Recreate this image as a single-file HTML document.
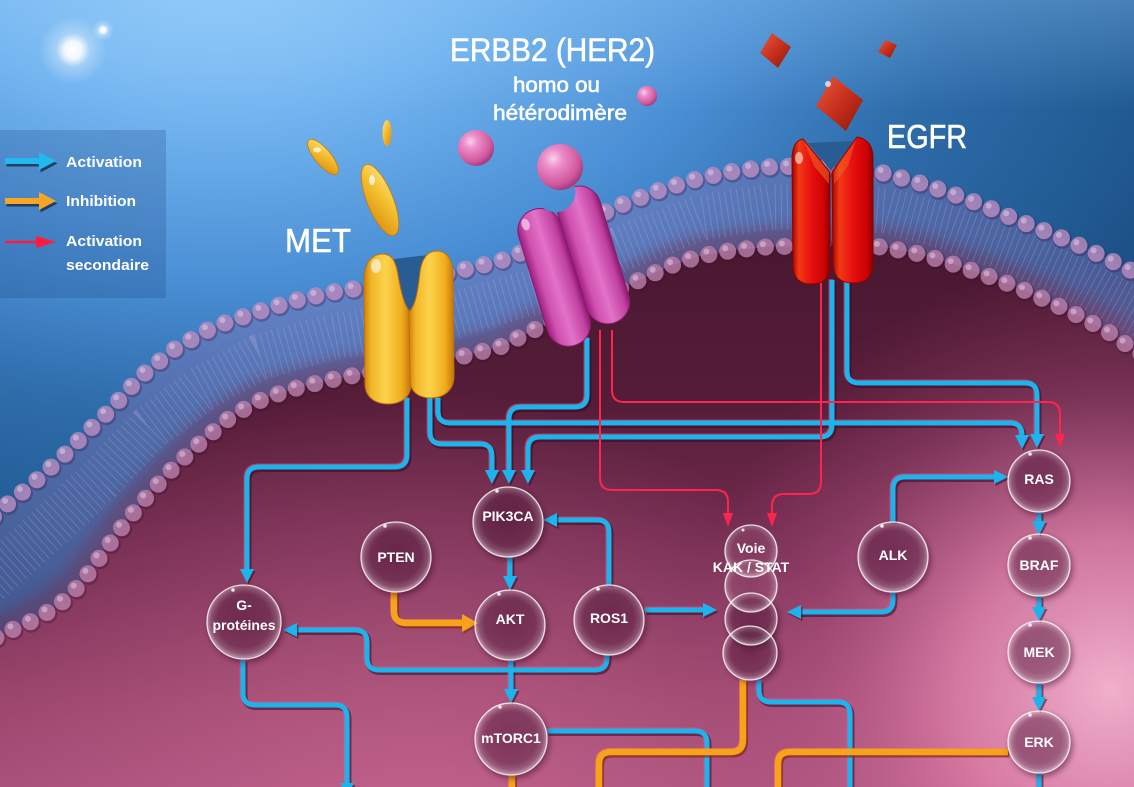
<!DOCTYPE html>
<html><head><meta charset="utf-8"><style>
html,body{margin:0;padding:0;background:#2a66a6;}
svg{display:block;}
text{font-family:"Liberation Sans",Arial,sans-serif;fill:#fff;}
</style></head><body>
<svg width="1134" height="787" viewBox="0 0 1134 787" xmlns="http://www.w3.org/2000/svg">
<defs>
  <radialGradient id="bg" gradientUnits="userSpaceOnUse" cx="220" cy="-40" r="1040" gradientTransform="translate(220,-40) scale(1,0.62) translate(-220,40)">
    <stop offset="0" stop-color="#9ad0fb"/><stop offset="0.25" stop-color="#72b4f0"/><stop offset="0.5" stop-color="#4a8ed4"/><stop offset="0.7" stop-color="#2e6caa"/><stop offset="0.9" stop-color="#215b93"/><stop offset="1" stop-color="#1b4f85"/>
  </radialGradient>
  <linearGradient id="topLight" gradientUnits="userSpaceOnUse" x1="0" y1="0" x2="0" y2="110">
    <stop offset="0" stop-color="#8cc6f6" stop-opacity="0.35"/><stop offset="1" stop-color="#8cc6f6" stop-opacity="0"/>
  </linearGradient>
  <linearGradient id="cell" gradientUnits="userSpaceOnUse" x1="0" y1="240" x2="0" y2="787">
    <stop offset="0" stop-color="#4a1830"/><stop offset="0.3" stop-color="#551c38"/><stop offset="0.6" stop-color="#7a3055"/><stop offset="0.85" stop-color="#9a456c"/><stop offset="1" stop-color="#a64e78"/>
  </linearGradient>
  <radialGradient id="glow1" gradientUnits="userSpaceOnUse" cx="1110" cy="690" r="430">
    <stop offset="0" stop-color="#f0b0cc" stop-opacity="1"/><stop offset="0.35" stop-color="#e487b0" stop-opacity="0.8"/><stop offset="0.7" stop-color="#c86496" stop-opacity="0.3"/><stop offset="1" stop-color="#b45082" stop-opacity="0"/>
  </radialGradient>
  <radialGradient id="glow2" gradientUnits="userSpaceOnUse" cx="420" cy="860" r="480">
    <stop offset="0" stop-color="#d2709a" stop-opacity="0.6"/><stop offset="1" stop-color="#d2709a" stop-opacity="0"/>
  </radialGradient>
  <radialGradient id="spark" cx="50%" cy="50%" r="50%">
    <stop offset="0" stop-color="#fff" stop-opacity="1"/><stop offset="0.25" stop-color="#fff" stop-opacity="0.9"/><stop offset="0.5" stop-color="#fff" stop-opacity="0.3"/><stop offset="1" stop-color="#fff" stop-opacity="0"/>
  </radialGradient>
  <linearGradient id="yel" x1="0" y1="0" x2="1" y2="0">
    <stop offset="0" stop-color="#d0800a"/><stop offset="0.15" stop-color="#f2b526"/><stop offset="0.45" stop-color="#fcd34c"/><stop offset="0.8" stop-color="#f0ae1e"/><stop offset="1" stop-color="#c47408"/>
  </linearGradient>
  <linearGradient id="yel2" x1="0" y1="0" x2="1" y2="1">
    <stop offset="0" stop-color="#fde48a"/><stop offset="0.4" stop-color="#f6c232"/><stop offset="1" stop-color="#d88a0c"/>
  </linearGradient>
  <linearGradient id="pnk" x1="0" y1="0" x2="1" y2="0">
    <stop offset="0" stop-color="#9c1e7e"/><stop offset="0.2" stop-color="#d050b0"/><stop offset="0.5" stop-color="#e272c8"/><stop offset="0.85" stop-color="#c040a0"/><stop offset="1" stop-color="#8c186e"/>
  </linearGradient>
  <radialGradient id="ball" cx="35%" cy="32%" r="70%">
    <stop offset="0" stop-color="#fbd0ea"/><stop offset="0.3" stop-color="#ec8cc8"/><stop offset="0.8" stop-color="#d0589e"/><stop offset="1" stop-color="#a83c80"/>
  </radialGradient>
  <linearGradient id="red" x1="0" y1="0" x2="1" y2="0">
    <stop offset="0" stop-color="#a00000"/><stop offset="0.18" stop-color="#f03a14"/><stop offset="0.5" stop-color="#e81010"/><stop offset="0.85" stop-color="#cc0202"/><stop offset="1" stop-color="#8a0000"/>
  </linearGradient>
  <linearGradient id="dia" x1="0" y1="0" x2="1" y2="1">
    <stop offset="0" stop-color="#e85a40"/><stop offset="0.5" stop-color="#c8301c"/><stop offset="1" stop-color="#8e160a"/>
  </linearGradient>
  <radialGradient id="node" cx="50%" cy="48%" r="50%">
    <stop offset="0" stop-color="#fff" stop-opacity="0.02"/><stop offset="0.72" stop-color="#fff" stop-opacity="0.06"/><stop offset="0.9" stop-color="#fff" stop-opacity="0.2"/><stop offset="1" stop-color="#fff" stop-opacity="0.45"/>
  </radialGradient>
  <filter id="blur3" x="-30%" y="-30%" width="160%" height="160%"><feGaussianBlur stdDeviation="3"/></filter>
  <filter id="blur6" x="-30%" y="-30%" width="160%" height="160%"><feGaussianBlur stdDeviation="6"/></filter>
  <mask id="cup" maskUnits="userSpaceOnUse" x="-120" y="-160" width="240" height="320">
    <rect x="-120" y="-160" width="240" height="320" fill="#fff"/>
    <circle cx="4" cy="-80" r="20" fill="#000"/>
  </mask>

  <path id="outer" d="M-20,530 L0,510 L30,486 L60,459 L85,434 L110,410 L140,377 L173,350 L213,327 L257,312 L293,301 L333,292 L400,282 L453,272 L500,261 L533,248 L575,228 L613,208 L660,190 L700,178 L735,171 L767,167 L800,166 L830,167 L883,173 L920,183 L950,193 L985,206 L1017,220 L1050,233 L1083,247 L1110,260 L1134,272 L1160,285"/>
  <path id="inner" d="M-20,648 L0,635 L30,622 L57,607 L80,585 L100,557 L125,523 L150,493 L175,466 L200,443 L233,415 L265,398 L300,387 L335,379 L367,373 L420,365 L460,357 L500,347 L540,327 L590,303 L633,283 L670,266 L700,256 L735,250 L767,247 L830,245 L883,247 L920,254 L950,263 L985,275 L1017,287 L1050,302 L1083,318 L1110,333 L1134,350 L1160,365"/>

  <g id="cy" fill="none" stroke-linejoin="round" stroke-linecap="butt">
    <path d="M407,398 V455 Q407,467 395,467 H259 Q247,467 247,479 V570"/>
    <path d="M430,398 V432 Q430,444 442,444 H480 Q492,444 492,456 V471"/>
    <path d="M438,398 V411 Q438,423 450,423 H1010 Q1022,423 1022,435 V436"/>
    <path d="M587,338 V395 Q587,407 575,407 H521 Q509,407 509,419 V471"/>
    <path d="M832,280 V425 Q832,437 820,437 H540 Q528,437 528,449 V471"/>
    <path d="M847,280 V371 Q847,383 859,383 H1025 Q1037,383 1037,395 V435"/>
    <path d="M609,585 V532 Q609,520 597,520 H556"/>
    <path d="M607,654 V658 Q607,670 595,670 H379 Q367,670 367,658 V642 Q367,630 355,630 H296"/>
    <path d="M645,610 H704"/>
    <path d="M893,592 V600 Q893,612 881,612 H800"/>
    <path d="M893,522 V489 Q893,477 905,477 H995"/>
    <path d="M510,557 V577"/>
    <path d="M511,660 V690"/>
    <path d="M1039,512 V522"/>
    <path d="M1039,596 V608"/>
    <path d="M1039,683 V698"/>
    <path d="M243,660 V693 Q243,705 255,705 H335 Q347,705 347,717 V785"/>
    <path d="M547,731 H695 Q707,731 707,743 V790"/>
    <path d="M759,680 V690 Q759,702 771,702 H838 Q850,702 850,714 V790"/>
    <path d="M1039,773 V790"/>
  </g>
  <g id="cyA">
    <polygon points="240,569 254,569 247,583"/>
    <polygon points="485,470 499,470 492,484"/>
    <polygon points="1015,435 1029,435 1022,449"/>
    <polygon points="502,470 516,470 509,484"/>
    <polygon points="521,470 535,470 528,484"/>
    <polygon points="1030,434 1044,434 1037,448"/>
    <polygon points="557,513 557,527 543,520"/>
    <polygon points="297,623 297,637 283,630"/>
    <polygon points="703,603 703,617 717,610"/>
    <polygon points="801,605 801,619 787,612"/>
    <polygon points="994,470 994,484 1008,477"/>
    <polygon points="503,576 517,576 510,590"/>
    <polygon points="504,689 518,689 511,703"/>
    <polygon points="1032,521 1046,521 1039,535"/>
    <polygon points="1032,607 1046,607 1039,621"/>
    <polygon points="1032,697 1046,697 1039,711"/>
    <polygon points="340,783 354,783 347,797"/>
  </g>
  <g id="or" fill="none" stroke-linejoin="round">
    <path d="M394,592 V611 Q394,623 406,623 H463"/>
    <path d="M743,680 V740 Q743,752 731,752 H611 Q599,752 599,764 V790"/>
    <path d="M1008,752 H790 Q778,752 778,764 V790"/>
    <path d="M512,775 V790"/>
  </g>
  <g id="rd" fill="none" stroke-linejoin="round">
    <path d="M600,330 V478 Q600,490 612,490 H716 Q728,490 728,502 V515"/>
    <path d="M612,330 V390 Q612,402 624,402 H1048 Q1060,402 1060,414 V436"/>
    <path d="M821,283 V482 Q821,494 809,494 H784 Q772,494 772,506 V515"/>
  </g>
</defs>

<rect x="0" y="0" width="1134" height="787" fill="url(#bg)"/>
<rect x="0" y="0" width="1134" height="110" fill="url(#topLight)"/>
<circle cx="73" cy="50" r="34" fill="url(#spark)"/>
<circle cx="103" cy="30" r="11" fill="url(#spark)"/>

<path d="M-20,530 L0,510 L30,486 L60,459 L85,434 L110,410 L140,377 L173,350 L213,327 L257,312 L293,301 L333,292 L400,282 L453,272 L500,261 L533,248 L575,228 L613,208 L660,190 L700,178 L735,171 L767,167 L800,166 L830,167 L883,173 L920,183 L950,193 L985,206 L1017,220 L1050,233 L1083,247 L1110,260 L1134,272 L1160,285 L1160,365 L1134,350 L1110,333 L1083,318 L1050,302 L1017,287 L985,275 L950,263 L920,254 L883,247 L830,245 L767,247 L735,250 L700,256 L670,266 L633,283 L590,303 L540,327 L500,347 L460,357 L420,365 L367,373 L335,379 L300,387 L265,398 L233,415 L200,443 L175,466 L150,493 L125,523 L100,557 L80,585 L57,607 L30,622 L0,635 L-20,648 Z" fill="#9a72b4" fill-opacity="0.33"/>
<use href="#inner" fill="none" stroke="#6a2a50" stroke-opacity="0.45" stroke-width="40" filter="url(#blur6)"/>
<path d="M-20,590 L0,572 L50,527 L100,480 L150,428 L200,390 L260,357 L330,337 L450,316 L540,290 L620,249 L700,218 L770,207 L830,206 L885,210 L950,228 L1017,253 L1083,283 L1160,325" fill="none" stroke="#e0c4ec" stroke-opacity="0.22" stroke-width="46" stroke-dasharray="1 5"/>

<path d="M-20,648 L0,635 L30,622 L57,607 L80,585 L100,557 L125,523 L150,493 L175,466 L200,443 L233,415 L265,398 L300,387 L335,379 L367,373 L420,365 L460,357 L500,347 L540,327 L590,303 L633,283 L670,266 L700,256 L735,250 L767,247 L830,245 L883,247 L920,254 L950,263 L985,275 L1017,287 L1050,302 L1083,318 L1110,333 L1134,350 L1160,365 L1160,800 L-20,800 Z" fill="url(#cell)"/>
<rect x="0" y="300" width="1134" height="487" fill="url(#glow2)"/>
<rect x="0" y="250" width="1134" height="537" fill="url(#glow1)"/>

<use href="#outer" fill="none" stroke="#3a2050" stroke-opacity="0.35" stroke-width="19" stroke-linecap="round" stroke-dasharray="0 19" transform="translate(1,1.5)"/>
<use href="#outer" fill="none" stroke="#c898cc" stroke-opacity="0.72" stroke-width="17" stroke-linecap="round" stroke-dasharray="0 19"/>
<use href="#outer" fill="none" stroke="#f0dcf4" stroke-opacity="0.45" stroke-width="6" stroke-linecap="round" stroke-dasharray="0 19" transform="translate(-2.5,-3)"/>
<use href="#inner" fill="none" stroke="#3a1030" stroke-opacity="0.35" stroke-width="19" stroke-linecap="round" stroke-dasharray="0 19" transform="translate(1,1.5)"/>
<use href="#inner" fill="none" stroke="#c88cb8" stroke-opacity="0.72" stroke-width="17" stroke-linecap="round" stroke-dasharray="0 19"/>
<use href="#inner" fill="none" stroke="#f4d8ec" stroke-opacity="0.45" stroke-width="6" stroke-linecap="round" stroke-dasharray="0 19" transform="translate(-2.5,-3)"/>

<rect x="0" y="130" width="166" height="168" fill="#163c78" fill-opacity="0.22"/>
<g transform="translate(1.5,2.5)" fill="#10203a" opacity="0.7">
  <rect x="5" y="158" width="37" height="6"/><polygon points="39,152 56,161 39,170"/>
  <rect x="5" y="198" width="37" height="6"/><polygon points="39,192 56,201 39,210"/>
</g>
<rect x="5" y="158" width="37" height="6" fill="#22b8f0"/><polygon points="39,152 56,161 39,170" fill="#22b8f0"/>
<rect x="5" y="198" width="37" height="6" fill="#f6a624"/><polygon points="39,192 56,201 39,210" fill="#f6a624"/>
<line x1="5" y1="242" x2="38" y2="242" stroke="#ff1a40" stroke-width="2.5"/><polygon points="36,236 56,242 36,248" fill="#ff1a40"/>
<g font-weight="bold" font-size="15">
  <text x="66" y="167" textLength="76" lengthAdjust="spacingAndGlyphs">Activation</text>
  <text x="66" y="206" textLength="70" lengthAdjust="spacingAndGlyphs">Inhibition</text>
  <text x="66" y="246" textLength="76" lengthAdjust="spacingAndGlyphs">Activation</text>
  <text x="66" y="270" textLength="83" lengthAdjust="spacingAndGlyphs">secondaire</text>
</g>

<use href="#cy" stroke="#380820" stroke-opacity="0.55" stroke-width="6" transform="translate(1.5,2)"/>
<use href="#cy" stroke="#ff4c78" stroke-opacity="0.55" stroke-width="5" transform="translate(-1,-1)"/>
<use href="#cy" stroke="#1cb4ec" stroke-width="5"/>
<use href="#cyA" fill="#380820" fill-opacity="0.55" transform="translate(1.5,2)"/>
<use href="#cyA" fill="#1cb4ec"/>
<use href="#or" stroke="#8a2810" stroke-opacity="0.7" stroke-width="7" transform="translate(1.5,2)"/>
<use href="#or" stroke="#ff7a50" stroke-opacity="0.5" stroke-width="6" transform="translate(-1,-1)"/>
<use href="#or" stroke="#f6a21a" stroke-width="6.5"/>
<polygon points="462,614 462,632 478,623" fill="#8a2810" fill-opacity="0.6" transform="translate(1.5,2)"/>
<polygon points="462,614 462,632 478,623" fill="#f6a21a"/>
<use href="#rd" stroke="#ff2450" stroke-width="2"/>
<g fill="#ff2450">
  <polygon points="723,513 733,513 728,527"/>
  <polygon points="1055,434 1065,434 1060,448"/>
  <polygon points="767,513 777,513 772,527"/>
</g>

<!-- MET receptor -->
<path d="M394,259 L428,255 L418,300 L410,314 L402,300 Z" fill="#2a5c94"/>
<path d="M364,282 C364,262 372,254 383,254 C392,254 396,262 398,275 C401,292 404,305 410,312 L411,384 C411,397 401,404 388,404 C374,404 365,396 365,384 Z" fill="url(#yel)" stroke="#c07008" stroke-width="1"/>
<path d="M409,312 C416,305 418,290 420,272 C422,258 428,251 437,251 C447,251 453,260 453,275 L454,376 C454,390 444,398 431,398 C418,398 410,391 410,380 Z" fill="url(#yel)" stroke="#c07008" stroke-width="1"/>
<ellipse cx="376" cy="266" rx="5" ry="7" fill="#fff" fill-opacity="0.6"/>
<ellipse cx="323" cy="157" rx="22" ry="8" transform="rotate(50 323 157)" fill="url(#yel2)" stroke="#c87a08" stroke-width="0.8"/>
<ellipse cx="380" cy="200" rx="38" ry="13" transform="rotate(68 380 200)" fill="url(#yel2)" stroke="#c87a08" stroke-width="0.8"/>
<ellipse cx="387" cy="133" rx="4.5" ry="13" fill="url(#yel2)"/>
<ellipse cx="317" cy="150" rx="4" ry="2.5" fill="#fff" fill-opacity="0.7"/>
<ellipse cx="372" cy="180" rx="3" ry="5" fill="#fff" fill-opacity="0.7"/>

<!-- ERBB2 receptor -->
<g transform="translate(575,270) rotate(-17)">
  <g mask="url(#cup)">
    <rect x="-44" y="-70" width="44" height="142" rx="22" fill="url(#pnk)" stroke="#8a1a6c" stroke-width="1"/>
    <rect x="0" y="-80" width="44" height="142" rx="22" fill="url(#pnk)" stroke="#8a1a6c" stroke-width="1"/>
  </g>
  <ellipse cx="-34" cy="-58" rx="4" ry="6" fill="#fff" fill-opacity="0.55"/>
</g>
<circle cx="560" cy="167" r="23" fill="url(#ball)"/>
<circle cx="476" cy="148" r="18" fill="url(#ball)"/>
<circle cx="647" cy="96" r="10" fill="url(#ball)"/>

<!-- EGFR receptor -->
<polygon points="808,143 854,141 831,171" fill="#2a5c94"/>
<path d="M792,160 Q792,141 803,139 L830,172 L830,265 Q830,284 811,284 Q793,284 793,265 Z" fill="url(#red)" stroke="#900000" stroke-width="1"/>
<path d="M832,172 L857,137 Q873,140 873,158 L873,263 Q873,283 853,283 Q833,283 833,263 Z" fill="url(#red)" stroke="#900000" stroke-width="1"/>
<polygon points="804,141 829,172 829,184 814,166" fill="#f26a2a" fill-opacity="0.55"/>
<polygon points="856,139 834,172 834,184 848,166" fill="#f26a2a" fill-opacity="0.45"/>
<ellipse cx="799" cy="158" rx="4" ry="6" fill="#fff" fill-opacity="0.55"/>
<polygon points="833,76 863,100 846,131 816,106" fill="url(#dia)"/>
<polygon points="772,33 791,47 778,68 760,53" fill="url(#dia)"/>
<polygon points="885,40 897,45 890,58 878,52" fill="url(#dia)"/>
<circle cx="828" cy="84" r="3" fill="#fff" fill-opacity="0.7"/>

<g stroke="#fff" stroke-width="0.6">
  <text x="285" y="252" font-size="33" textLength="66" lengthAdjust="spacingAndGlyphs">MET</text>
  <text x="450" y="61" font-size="32" textLength="205" lengthAdjust="spacingAndGlyphs">ERBB2 (HER2)</text>
  <text x="513" y="92" font-size="21" textLength="87" lengthAdjust="spacingAndGlyphs">homo ou</text>
  <text x="493" y="120" font-size="21" textLength="134" lengthAdjust="spacingAndGlyphs">hétérodimère</text>
  <text x="887" y="148" font-size="33" textLength="80" lengthAdjust="spacingAndGlyphs">EGFR</text>
</g>

<g>
  <g fill="#3a0820" fill-opacity="0.45" filter="url(#blur3)">
    <circle cx="510" cy="525" r="36"/><circle cx="398" cy="560" r="36"/><circle cx="512" cy="628" r="36"/>
    <circle cx="611" cy="623" r="36"/><circle cx="246" cy="625" r="38"/><circle cx="513" cy="742" r="37"/>
    <circle cx="895" cy="560" r="36"/><circle cx="1041" cy="484" r="32"/><circle cx="1041" cy="568" r="32"/>
    <circle cx="1041" cy="655" r="32"/><circle cx="1041" cy="745" r="32"/>
    <circle cx="753" cy="655" r="28"/><circle cx="753" cy="622" r="27"/>
  </g>
  <g fill="url(#node)" stroke="#fff" stroke-opacity="0.8" stroke-width="1.3">
    <circle cx="508" cy="522" r="35"/><circle cx="396" cy="557" r="35"/><circle cx="510" cy="625" r="35"/>
    <circle cx="609" cy="620" r="35"/><circle cx="244" cy="622" r="37"/><circle cx="511" cy="739" r="36"/>
    <circle cx="893" cy="557" r="35"/><circle cx="1039" cy="481" r="31"/><circle cx="1039" cy="565" r="31"/>
    <circle cx="1039" cy="652" r="31"/><circle cx="1039" cy="742" r="31"/>
    <circle cx="750" cy="653" r="27"/><circle cx="751" cy="619" r="26"/><circle cx="751" cy="586" r="26"/><circle cx="751" cy="551" r="26"/>
  </g>
  <g fill="#fff" fill-opacity="0.85">
    <circle cx="497" cy="491" r="1.8"/><circle cx="385" cy="526" r="1.8"/><circle cx="499" cy="594" r="1.8"/>
    <circle cx="598" cy="589" r="1.8"/><circle cx="233" cy="590" r="1.8"/><circle cx="500" cy="707" r="1.8"/>
    <circle cx="882" cy="526" r="1.8"/><circle cx="1030" cy="454" r="1.8"/><circle cx="1030" cy="538" r="1.8"/>
    <circle cx="1030" cy="625" r="1.8"/><circle cx="1030" cy="715" r="1.8"/><circle cx="743" cy="530" r="1.5"/>
  </g>
</g>
<g font-weight="bold" font-size="14" text-anchor="middle">
  <text x="508" y="521">PIK3CA</text>
  <text x="396" y="562">PTEN</text>
  <text x="510" y="624">AKT</text>
  <text x="609" y="623">ROS1</text>
  <text x="244" y="610">G-</text>
  <text x="244" y="630">protéines</text>
  <text x="511" y="743">mTORC1</text>
  <text x="893" y="560">ALK</text>
  <text x="1039" y="484">RAS</text>
  <text x="1039" y="570">BRAF</text>
  <text x="1039" y="657">MEK</text>
  <text x="1039" y="747">ERK</text>
  <text x="751" y="553">Voie</text>
  <text x="751" y="572">KAK / STAT</text>
</g>
</svg>
</body></html>
